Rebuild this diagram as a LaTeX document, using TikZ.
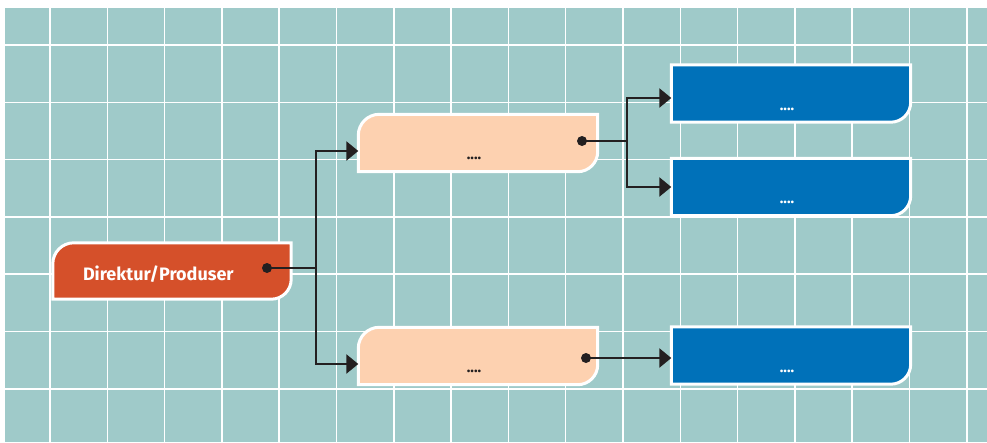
\documentclass[tikz,border=0pt]{standalone}
\usepackage{fontspec}
\setmainfont{Fira Sans}
\usetikzlibrary{arrows.meta, positioning, backgrounds}
\definecolor{gridteal}{HTML}{9FCAC9}
\definecolor{dirred}{HTML}{D5502A}
\definecolor{kpeach}{HTML}{FDD1B0}
\definecolor{tblue}{HTML}{0071B9}
\definecolor{inkdark}{HTML}{231F20}

\begin{document}
\begin{tikzpicture}[x=1pt, y=-1pt,
	box/.style={minimum width=239pt, minimum height=57pt, inner sep=0pt},
	lowtext/.style={font=\bfseries\fontsize{15}{15}\selectfont, text height=33pt, text depth=0pt,
		execute at begin node=\kern-8pt},
	knob/.style={circle, fill=inkdark, minimum size=10pt, inner sep=0pt},
	wire/.style={draw=inkdark, line width=2.5pt},
	feed/.style={wire, -{Triangle[length=12pt,width=19pt]}},
	frame/.style={draw=white, line width=3pt}]
	\useasboundingbox (0,0) rectangle (987,442);
	
	% raster
	\begin{scope}[on background layer]
		\fill[gridteal] (5,8) rectangle (987,442);
		\begin{scope}
			\clip (5,8) rectangle (987,442);
			\foreach \i in {0,...,16}
			\draw[white, line width=1.5pt] (50+57.3*\i,8) -- (50+57.3*\i,442);
			\foreach \j in {0,...,6}
			\draw[white, line width=1.5pt] (5,45+57.3*\j) -- (987,45+57.3*\j);
		\end{scope}
	\end{scope}
	
	\node[box, minimum width=238pt, minimum height=56pt, text width=178pt, align=left, text=white,
	text height=18pt, text depth=0pt,
	font=\bfseries\fontsize{18}{18}\selectfont] (dir) at (172,271) {Direktur/Produser};
	
	\node[box, lowtext, text=inkdark] (k1) at (478,143) {....};
	\node[box, lowtext, text=inkdark] (k2) at (478,356) {....};
	
	\node[box, lowtext, text=white] (b1) at (791,93.5) {....};
	\node[box, lowtext, text=white] (b2) at (791,187) {....};
	\node[box, lowtext, text=white] (b3) at (791,355.5) {....};
	
	\begin{scope}[on background layer]
		\foreach \n/\c in {dir/dirred, k1/kpeach, k2/kpeach}
		\draw[frame, fill=\c] (\n.south west) -- ([yshift=-21pt]\n.north west)
		arc[start angle=180, end angle=90, radius=21pt] -- (\n.north east)
		-- ([yshift=20pt]\n.south east) arc[start angle=0, end angle=-90, radius=20pt] -- cycle;
		\foreach \n in {b1, b2, b3}
		\draw[frame, fill=tblue] (\n.south west) -- (\n.north west) -- (\n.north east)
		-- ([yshift=20pt]\n.south east) arc[start angle=0, end angle=-90, radius=20pt] -- cycle;
	\end{scope}
	
	\node[knob] (d0) at (267,268) {};
	\node[knob] (d1) at (582,141) {};
	\node[knob] (d2) at (586,358) {};
	\coordinate (j0) at (316,268);
	\coordinate (j1) at (627,141);
	
	\draw[wire]  (d0.center) -- (j0);
	\draw[feed]  (j0) |- ([yshift=-8pt]k1.west);
	\draw[feed]  (j0) |- ([yshift=-8pt]k2.west);
	
	\draw[wire]  (d1.center) -- (j1);
	\draw[feed]  (j1) |- ([yshift=-4.5pt]b1.west);
	\draw[feed]  (j1) |- (b2.west);
	
	\draw[feed]  (d2.center) -- (d2 -| b3.west);
\end{tikzpicture}
\end{document}
